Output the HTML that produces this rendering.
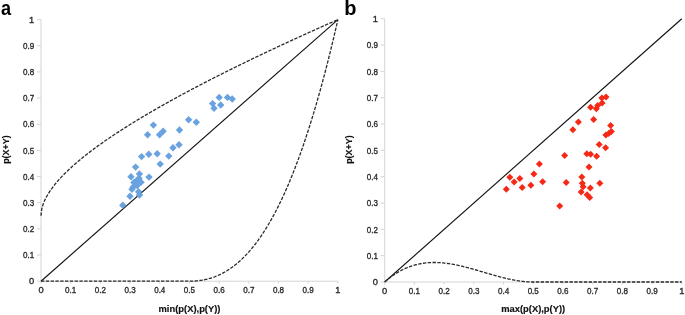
<!DOCTYPE html>
<html><head><meta charset="utf-8"><style>
html,body{margin:0;padding:0;background:#fff;}
body{width:685px;height:315px;overflow:hidden;}
svg{display:block;will-change:transform;filter:blur(0.3px);}
text{font-family:"Liberation Sans",sans-serif;}
.ax{stroke:#d4d4d4;stroke-width:1;fill:none;}
.tk{font-size:9.3px;fill:#2a2a2a;stroke:#2a2a2a;stroke-width:0.35px;}
.ttl{font-size:9.2px;font-weight:bold;fill:#111;stroke:#111;stroke-width:0.15px;}
.pl{font-size:20px;font-weight:bold;fill:#000;}
.solid{stroke:#111;stroke-width:1.15;fill:none;}
.dash{stroke:#2a2a2a;stroke-width:1.3;fill:none;stroke-dasharray:3.4 1.4;}
.bl{fill:#6aa2e0;}
.rd{fill:#f52a16;}
</style></head><body>
<svg width="685" height="315" viewBox="0 0 685 315">
<path class="ax" d="M41.0,19.6 L41.0,281.2 L337.9,281.2"/>
<path class="ax" d="M41.00,281.2 L41.00,283.7"/>
<path class="ax" d="M37.00,281.20 L41.0,281.20"/>
<text class="tk" x="41.00" y="292.90" text-anchor="middle">0</text>
<text class="tk" x="34.20" y="284.40" text-anchor="end">0</text>
<path class="ax" d="M70.69,281.2 L70.69,283.7"/>
<path class="ax" d="M37.00,255.04 L41.0,255.04"/>
<text class="tk" x="70.69" y="292.90" text-anchor="middle" textLength="11.2" lengthAdjust="spacingAndGlyphs">0.1</text>
<text class="tk" x="34.20" y="258.24" text-anchor="end" textLength="11.2" lengthAdjust="spacingAndGlyphs">0.1</text>
<path class="ax" d="M100.38,281.2 L100.38,283.7"/>
<path class="ax" d="M37.00,228.88 L41.0,228.88"/>
<text class="tk" x="100.38" y="292.90" text-anchor="middle" textLength="11.2" lengthAdjust="spacingAndGlyphs">0.2</text>
<text class="tk" x="34.20" y="232.08" text-anchor="end" textLength="11.2" lengthAdjust="spacingAndGlyphs">0.2</text>
<path class="ax" d="M130.07,281.2 L130.07,283.7"/>
<path class="ax" d="M37.00,202.72 L41.0,202.72"/>
<text class="tk" x="130.07" y="292.90" text-anchor="middle" textLength="11.2" lengthAdjust="spacingAndGlyphs">0.3</text>
<text class="tk" x="34.20" y="205.92" text-anchor="end" textLength="11.2" lengthAdjust="spacingAndGlyphs">0.3</text>
<path class="ax" d="M159.76,281.2 L159.76,283.7"/>
<path class="ax" d="M37.00,176.56 L41.0,176.56"/>
<text class="tk" x="159.76" y="292.90" text-anchor="middle" textLength="11.2" lengthAdjust="spacingAndGlyphs">0.4</text>
<text class="tk" x="34.20" y="179.76" text-anchor="end" textLength="11.2" lengthAdjust="spacingAndGlyphs">0.4</text>
<path class="ax" d="M189.45,281.2 L189.45,283.7"/>
<path class="ax" d="M37.00,150.40 L41.0,150.40"/>
<text class="tk" x="189.45" y="292.90" text-anchor="middle" textLength="11.2" lengthAdjust="spacingAndGlyphs">0.5</text>
<text class="tk" x="34.20" y="153.60" text-anchor="end" textLength="11.2" lengthAdjust="spacingAndGlyphs">0.5</text>
<path class="ax" d="M219.14,281.2 L219.14,283.7"/>
<path class="ax" d="M37.00,124.24 L41.0,124.24"/>
<text class="tk" x="219.14" y="292.90" text-anchor="middle" textLength="11.2" lengthAdjust="spacingAndGlyphs">0.6</text>
<text class="tk" x="34.20" y="127.44" text-anchor="end" textLength="11.2" lengthAdjust="spacingAndGlyphs">0.6</text>
<path class="ax" d="M248.83,281.2 L248.83,283.7"/>
<path class="ax" d="M37.00,98.08 L41.0,98.08"/>
<text class="tk" x="248.83" y="292.90" text-anchor="middle" textLength="11.2" lengthAdjust="spacingAndGlyphs">0.7</text>
<text class="tk" x="34.20" y="101.28" text-anchor="end" textLength="11.2" lengthAdjust="spacingAndGlyphs">0.7</text>
<path class="ax" d="M278.52,281.2 L278.52,283.7"/>
<path class="ax" d="M37.00,71.92 L41.0,71.92"/>
<text class="tk" x="278.52" y="292.90" text-anchor="middle" textLength="11.2" lengthAdjust="spacingAndGlyphs">0.8</text>
<text class="tk" x="34.20" y="75.12" text-anchor="end" textLength="11.2" lengthAdjust="spacingAndGlyphs">0.8</text>
<path class="ax" d="M308.21,281.2 L308.21,283.7"/>
<path class="ax" d="M37.00,45.76 L41.0,45.76"/>
<text class="tk" x="308.21" y="292.90" text-anchor="middle" textLength="11.2" lengthAdjust="spacingAndGlyphs">0.9</text>
<text class="tk" x="34.20" y="48.96" text-anchor="end" textLength="11.2" lengthAdjust="spacingAndGlyphs">0.9</text>
<path class="ax" d="M337.90,281.2 L337.90,283.7"/>
<path class="ax" d="M37.00,19.60 L41.0,19.60"/>
<text class="tk" x="337.90" y="292.90" text-anchor="middle">1</text>
<text class="tk" x="34.20" y="22.80" text-anchor="end">1</text>
<path class="ax" d="M384.7,18.7 L384.7,282.0 L681.8,282.0"/>
<path class="ax" d="M384.70,282.0 L384.70,284.5"/>
<path class="ax" d="M380.70,282.00 L384.7,282.00"/>
<text class="tk" x="384.70" y="293.70" text-anchor="middle">0</text>
<text class="tk" x="377.90" y="285.20" text-anchor="end">0</text>
<path class="ax" d="M414.41,282.0 L414.41,284.5"/>
<path class="ax" d="M380.70,255.67 L384.7,255.67"/>
<text class="tk" x="414.41" y="293.70" text-anchor="middle" textLength="11.2" lengthAdjust="spacingAndGlyphs">0.1</text>
<text class="tk" x="377.90" y="258.87" text-anchor="end" textLength="11.2" lengthAdjust="spacingAndGlyphs">0.1</text>
<path class="ax" d="M444.12,282.0 L444.12,284.5"/>
<path class="ax" d="M380.70,229.34 L384.7,229.34"/>
<text class="tk" x="444.12" y="293.70" text-anchor="middle" textLength="11.2" lengthAdjust="spacingAndGlyphs">0.2</text>
<text class="tk" x="377.90" y="232.54" text-anchor="end" textLength="11.2" lengthAdjust="spacingAndGlyphs">0.2</text>
<path class="ax" d="M473.83,282.0 L473.83,284.5"/>
<path class="ax" d="M380.70,203.01 L384.7,203.01"/>
<text class="tk" x="473.83" y="293.70" text-anchor="middle" textLength="11.2" lengthAdjust="spacingAndGlyphs">0.3</text>
<text class="tk" x="377.90" y="206.21" text-anchor="end" textLength="11.2" lengthAdjust="spacingAndGlyphs">0.3</text>
<path class="ax" d="M503.54,282.0 L503.54,284.5"/>
<path class="ax" d="M380.70,176.68 L384.7,176.68"/>
<text class="tk" x="503.54" y="293.70" text-anchor="middle" textLength="11.2" lengthAdjust="spacingAndGlyphs">0.4</text>
<text class="tk" x="377.90" y="179.88" text-anchor="end" textLength="11.2" lengthAdjust="spacingAndGlyphs">0.4</text>
<path class="ax" d="M533.25,282.0 L533.25,284.5"/>
<path class="ax" d="M380.70,150.35 L384.7,150.35"/>
<text class="tk" x="533.25" y="293.70" text-anchor="middle" textLength="11.2" lengthAdjust="spacingAndGlyphs">0.5</text>
<text class="tk" x="377.90" y="153.55" text-anchor="end" textLength="11.2" lengthAdjust="spacingAndGlyphs">0.5</text>
<path class="ax" d="M562.96,282.0 L562.96,284.5"/>
<path class="ax" d="M380.70,124.02 L384.7,124.02"/>
<text class="tk" x="562.96" y="293.70" text-anchor="middle" textLength="11.2" lengthAdjust="spacingAndGlyphs">0.6</text>
<text class="tk" x="377.90" y="127.22" text-anchor="end" textLength="11.2" lengthAdjust="spacingAndGlyphs">0.6</text>
<path class="ax" d="M592.67,282.0 L592.67,284.5"/>
<path class="ax" d="M380.70,97.69 L384.7,97.69"/>
<text class="tk" x="592.67" y="293.70" text-anchor="middle" textLength="11.2" lengthAdjust="spacingAndGlyphs">0.7</text>
<text class="tk" x="377.90" y="100.89" text-anchor="end" textLength="11.2" lengthAdjust="spacingAndGlyphs">0.7</text>
<path class="ax" d="M622.38,282.0 L622.38,284.5"/>
<path class="ax" d="M380.70,71.36 L384.7,71.36"/>
<text class="tk" x="622.38" y="293.70" text-anchor="middle" textLength="11.2" lengthAdjust="spacingAndGlyphs">0.8</text>
<text class="tk" x="377.90" y="74.56" text-anchor="end" textLength="11.2" lengthAdjust="spacingAndGlyphs">0.8</text>
<path class="ax" d="M652.09,282.0 L652.09,284.5"/>
<path class="ax" d="M380.70,45.03 L384.7,45.03"/>
<text class="tk" x="652.09" y="293.70" text-anchor="middle" textLength="11.2" lengthAdjust="spacingAndGlyphs">0.9</text>
<text class="tk" x="377.90" y="48.23" text-anchor="end" textLength="11.2" lengthAdjust="spacingAndGlyphs">0.9</text>
<path class="ax" d="M681.80,282.0 L681.80,284.5"/>
<path class="ax" d="M380.70,18.70 L384.7,18.70"/>
<text class="tk" x="681.80" y="293.70" text-anchor="middle">1</text>
<text class="tk" x="377.90" y="21.90" text-anchor="end">1</text>
<path class="solid" d="M41.00,281.20 L337.90,19.60"/>
<path class="dash" d="M41.00,215.80 L41.74,209.10 L42.48,206.22 L43.23,203.98 L43.97,202.07 L44.71,200.36 L45.45,198.80 L46.20,197.35 L46.94,195.99 L47.68,194.71 L48.42,193.48 L49.16,192.31 L49.91,191.18 L50.65,190.09 L51.39,189.04 L52.13,188.02 L52.88,187.02 L53.62,186.06 L54.36,185.11 L55.10,184.19 L55.84,183.28 L56.59,182.40 L57.33,181.53 L58.07,180.67 L58.81,179.84 L59.56,179.01 L60.30,178.20 L61.04,177.40 L61.78,176.62 L62.53,175.84 L63.27,175.07 L64.01,174.32 L64.75,173.57 L65.49,172.84 L66.24,172.11 L66.98,171.39 L67.72,170.67 L68.46,169.97 L69.21,169.27 L69.95,168.58 L70.69,167.90 L71.43,167.22 L72.17,166.55 L72.92,165.88 L73.66,165.22 L74.40,164.57 L75.14,163.92 L75.89,163.28 L76.63,162.64 L77.37,162.01 L78.11,161.38 L78.85,160.76 L79.60,160.14 L80.34,159.52 L81.08,158.91 L81.82,158.31 L82.57,157.70 L83.31,157.10 L84.05,156.51 L84.79,155.92 L85.53,155.33 L86.28,154.75 L87.02,154.17 L87.76,153.59 L88.50,153.02 L89.25,152.45 L89.99,151.88 L90.73,151.31 L91.47,150.75 L92.22,150.19 L92.96,149.64 L93.70,149.08 L94.44,148.53 L95.18,147.99 L95.93,147.44 L96.67,146.90 L97.41,146.36 L98.15,145.82 L98.90,145.29 L99.64,144.75 L100.38,144.22 L101.12,143.70 L101.86,143.17 L102.61,142.65 L103.35,142.13 L104.09,141.61 L104.83,141.09 L105.58,140.57 L106.32,140.06 L107.06,139.55 L107.80,139.04 L108.54,138.53 L109.29,138.03 L110.03,137.53 L110.77,137.02 L111.51,136.52 L112.26,136.03 L113.00,135.53 L113.74,135.03 L114.48,134.54 L115.22,134.05 L115.97,133.56 L116.71,133.07 L117.45,132.59 L118.19,132.10 L118.94,131.62 L119.68,131.14 L120.42,130.66 L121.16,130.18 L121.91,129.70 L122.65,129.22 L123.39,128.75 L124.13,128.28 L124.87,127.80 L125.62,127.33 L126.36,126.86 L127.10,126.40 L127.84,125.93 L128.59,125.46 L129.33,125.00 L130.07,124.54 L130.81,124.08 L131.55,123.62 L132.30,123.16 L133.04,122.70 L133.78,122.24 L134.52,121.79 L135.27,121.33 L136.01,120.88 L136.75,120.43 L137.49,119.98 L138.23,119.53 L138.98,119.08 L139.72,118.63 L140.46,118.19 L141.20,117.74 L141.95,117.30 L142.69,116.85 L143.43,116.41 L144.17,115.97 L144.91,115.53 L145.66,115.09 L146.40,114.65 L147.14,114.21 L147.88,113.78 L148.63,113.34 L149.37,112.91 L150.11,112.47 L150.85,112.04 L151.60,111.61 L152.34,111.18 L153.08,110.75 L153.82,110.32 L154.56,109.89 L155.31,109.46 L156.05,109.04 L156.79,108.61 L157.53,108.18 L158.28,107.76 L159.02,107.34 L159.76,106.91 L160.50,106.49 L161.24,106.07 L161.99,105.65 L162.73,105.23 L163.47,104.81 L164.21,104.40 L164.96,103.98 L165.70,103.56 L166.44,103.15 L167.18,102.73 L167.92,102.32 L168.67,101.91 L169.41,101.49 L170.15,101.08 L170.89,100.67 L171.64,100.26 L172.38,99.85 L173.12,99.44 L173.86,99.03 L174.60,98.63 L175.35,98.22 L176.09,97.81 L176.83,97.41 L177.57,97.00 L178.32,96.60 L179.06,96.20 L179.80,95.79 L180.54,95.39 L181.29,94.99 L182.03,94.59 L182.77,94.19 L183.51,93.79 L184.25,93.39 L185.00,92.99 L185.74,92.59 L186.48,92.19 L187.22,91.80 L187.97,91.40 L188.71,91.01 L189.45,90.61 L190.19,90.22 L190.93,89.82 L191.68,89.43 L192.42,89.04 L193.16,88.64 L193.90,88.25 L194.65,87.86 L195.39,87.47 L196.13,87.08 L196.87,86.69 L197.61,86.30 L198.36,85.91 L199.10,85.53 L199.84,85.14 L200.58,84.75 L201.33,84.37 L202.07,83.98 L202.81,83.60 L203.55,83.21 L204.29,82.83 L205.04,82.44 L205.78,82.06 L206.52,81.68 L207.26,81.29 L208.01,80.91 L208.75,80.53 L209.49,80.15 L210.23,79.77 L210.98,79.39 L211.72,79.01 L212.46,78.63 L213.20,78.25 L213.94,77.88 L214.69,77.50 L215.43,77.12 L216.17,76.74 L216.91,76.37 L217.66,75.99 L218.40,75.62 L219.14,75.24 L219.88,74.87 L220.62,74.49 L221.37,74.12 L222.11,73.75 L222.85,73.38 L223.59,73.00 L224.34,72.63 L225.08,72.26 L225.82,71.89 L226.56,71.52 L227.30,71.15 L228.05,70.78 L228.79,70.41 L229.53,70.04 L230.27,69.67 L231.02,69.30 L231.76,68.94 L232.50,68.57 L233.24,68.20 L233.98,67.84 L234.73,67.47 L235.47,67.10 L236.21,66.74 L236.95,66.37 L237.70,66.01 L238.44,65.64 L239.18,65.28 L239.92,64.92 L240.67,64.55 L241.41,64.19 L242.15,63.83 L242.89,63.47 L243.63,63.11 L244.38,62.74 L245.12,62.38 L245.86,62.02 L246.60,61.66 L247.35,61.30 L248.09,60.94 L248.83,60.58 L249.57,60.23 L250.31,59.87 L251.06,59.51 L251.80,59.15 L252.54,58.79 L253.28,58.44 L254.03,58.08 L254.77,57.72 L255.51,57.37 L256.25,57.01 L256.99,56.66 L257.74,56.30 L258.48,55.95 L259.22,55.59 L259.96,55.24 L260.71,54.89 L261.45,54.53 L262.19,54.18 L262.93,53.83 L263.67,53.47 L264.42,53.12 L265.16,52.77 L265.90,52.42 L266.64,52.07 L267.39,51.72 L268.13,51.37 L268.87,51.02 L269.61,50.67 L270.36,50.32 L271.10,49.97 L271.84,49.62 L272.58,49.27 L273.32,48.92 L274.07,48.57 L274.81,48.22 L275.55,47.88 L276.29,47.53 L277.04,47.18 L277.78,46.84 L278.52,46.49 L279.26,46.14 L280.00,45.80 L280.75,45.45 L281.49,45.11 L282.23,44.76 L282.97,44.42 L283.72,44.07 L284.46,43.73 L285.20,43.38 L285.94,43.04 L286.68,42.70 L287.43,42.35 L288.17,42.01 L288.91,41.67 L289.65,41.33 L290.40,40.98 L291.14,40.64 L291.88,40.30 L292.62,39.96 L293.37,39.62 L294.11,39.28 L294.85,38.94 L295.59,38.60 L296.33,38.26 L297.08,37.92 L297.82,37.58 L298.56,37.24 L299.30,36.90 L300.05,36.56 L300.79,36.22 L301.53,35.88 L302.27,35.55 L303.01,35.21 L303.76,34.87 L304.50,34.53 L305.24,34.20 L305.98,33.86 L306.73,33.52 L307.47,33.19 L308.21,32.85 L308.95,32.52 L309.69,32.18 L310.44,31.85 L311.18,31.51 L311.92,31.18 L312.66,30.84 L313.41,30.51 L314.15,30.17 L314.89,29.84 L315.63,29.51 L316.37,29.17 L317.12,28.84 L317.86,28.51 L318.60,28.17 L319.34,27.84 L320.09,27.51 L320.83,27.18 L321.57,26.84 L322.31,26.51 L323.05,26.18 L323.80,25.85 L324.54,25.52 L325.28,25.19 L326.02,24.86 L326.77,24.53 L327.51,24.20 L328.25,23.87 L328.99,23.54 L329.74,23.21 L330.48,22.88 L331.22,22.55 L331.96,22.22 L332.70,21.89 L333.45,21.57 L334.19,21.24 L334.93,20.91 L335.67,20.58 L336.42,20.25 L337.16,19.93 L337.90,19.60"/>
<path class="dash" d="M41.00,281.20 L41.74,281.20 L42.48,281.20 L43.23,281.20 L43.97,281.20 L44.71,281.20 L45.45,281.20 L46.20,281.20 L46.94,281.20 L47.68,281.20 L48.42,281.20 L49.16,281.20 L49.91,281.20 L50.65,281.20 L51.39,281.20 L52.13,281.20 L52.88,281.20 L53.62,281.20 L54.36,281.20 L55.10,281.20 L55.84,281.20 L56.59,281.20 L57.33,281.20 L58.07,281.20 L58.81,281.20 L59.56,281.20 L60.30,281.20 L61.04,281.20 L61.78,281.20 L62.53,281.20 L63.27,281.20 L64.01,281.20 L64.75,281.20 L65.49,281.20 L66.24,281.20 L66.98,281.20 L67.72,281.20 L68.46,281.20 L69.21,281.20 L69.95,281.20 L70.69,281.20 L71.43,281.20 L72.17,281.20 L72.92,281.20 L73.66,281.20 L74.40,281.20 L75.14,281.20 L75.89,281.20 L76.63,281.20 L77.37,281.20 L78.11,281.20 L78.85,281.20 L79.60,281.20 L80.34,281.20 L81.08,281.20 L81.82,281.20 L82.57,281.20 L83.31,281.20 L84.05,281.20 L84.79,281.20 L85.53,281.20 L86.28,281.20 L87.02,281.20 L87.76,281.20 L88.50,281.20 L89.25,281.20 L89.99,281.20 L90.73,281.20 L91.47,281.20 L92.22,281.20 L92.96,281.20 L93.70,281.20 L94.44,281.20 L95.18,281.20 L95.93,281.20 L96.67,281.20 L97.41,281.20 L98.15,281.20 L98.90,281.20 L99.64,281.20 L100.38,281.20 L101.12,281.20 L101.86,281.20 L102.61,281.20 L103.35,281.20 L104.09,281.20 L104.83,281.20 L105.58,281.20 L106.32,281.20 L107.06,281.20 L107.80,281.20 L108.54,281.20 L109.29,281.20 L110.03,281.20 L110.77,281.20 L111.51,281.20 L112.26,281.20 L113.00,281.20 L113.74,281.20 L114.48,281.20 L115.22,281.20 L115.97,281.20 L116.71,281.20 L117.45,281.20 L118.19,281.20 L118.94,281.20 L119.68,281.20 L120.42,281.20 L121.16,281.20 L121.91,281.20 L122.65,281.20 L123.39,281.20 L124.13,281.20 L124.87,281.20 L125.62,281.20 L126.36,281.20 L127.10,281.20 L127.84,281.20 L128.59,281.20 L129.33,281.20 L130.07,281.20 L130.81,281.20 L131.55,281.20 L132.30,281.20 L133.04,281.20 L133.78,281.20 L134.52,281.20 L135.27,281.20 L136.01,281.20 L136.75,281.20 L137.49,281.20 L138.23,281.20 L138.98,281.20 L139.72,281.20 L140.46,281.20 L141.20,281.20 L141.95,281.20 L142.69,281.20 L143.43,281.20 L144.17,281.20 L144.91,281.20 L145.66,281.20 L146.40,281.20 L147.14,281.20 L147.88,281.20 L148.63,281.20 L149.37,281.20 L150.11,281.20 L150.85,281.20 L151.60,281.20 L152.34,281.20 L153.08,281.20 L153.82,281.20 L154.56,281.20 L155.31,281.20 L156.05,281.20 L156.79,281.20 L157.53,281.20 L158.28,281.20 L159.02,281.20 L159.76,281.20 L160.50,281.20 L161.24,281.20 L161.99,281.20 L162.73,281.20 L163.47,281.20 L164.21,281.20 L164.96,281.20 L165.70,281.20 L166.44,281.20 L167.18,281.20 L167.92,281.20 L168.67,281.20 L169.41,281.20 L170.15,281.20 L170.89,281.20 L171.64,281.20 L172.38,281.20 L173.12,281.20 L173.86,281.20 L174.60,281.20 L175.35,281.20 L176.09,281.20 L176.83,281.20 L177.57,281.20 L178.32,281.20 L179.06,281.20 L179.80,281.20 L180.54,281.20 L181.29,281.20 L182.03,281.20 L182.77,281.20 L183.51,281.20 L184.25,281.20 L185.00,281.20 L185.74,281.20 L186.48,281.20 L187.22,281.20 L187.97,281.20 L188.71,281.20 L189.45,281.20 L190.19,281.20 L190.93,281.19 L191.68,281.17 L192.42,281.15 L193.16,281.12 L193.90,281.08 L194.65,281.03 L195.39,280.98 L196.13,280.92 L196.87,280.86 L197.61,280.78 L198.36,280.70 L199.10,280.61 L199.84,280.51 L200.58,280.41 L201.33,280.30 L202.07,280.17 L202.81,280.05 L203.55,279.91 L204.29,279.76 L205.04,279.61 L205.78,279.44 L206.52,279.27 L207.26,279.09 L208.01,278.90 L208.75,278.70 L209.49,278.49 L210.23,278.28 L210.98,278.05 L211.72,277.82 L212.46,277.57 L213.20,277.32 L213.94,277.05 L214.69,276.78 L215.43,276.49 L216.17,276.20 L216.91,275.90 L217.66,275.58 L218.40,275.26 L219.14,274.92 L219.88,274.58 L220.62,274.22 L221.37,273.85 L222.11,273.48 L222.85,273.09 L223.59,272.69 L224.34,272.28 L225.08,271.86 L225.82,271.43 L226.56,270.98 L227.30,270.53 L228.05,270.06 L228.79,269.58 L229.53,269.09 L230.27,268.59 L231.02,268.07 L231.76,267.55 L232.50,267.01 L233.24,266.46 L233.98,265.90 L234.73,265.32 L235.47,264.73 L236.21,264.13 L236.95,263.52 L237.70,262.89 L238.44,262.26 L239.18,261.60 L239.92,260.94 L240.67,260.26 L241.41,259.57 L242.15,258.86 L242.89,258.15 L243.63,257.41 L244.38,256.67 L245.12,255.91 L245.86,255.14 L246.60,254.35 L247.35,253.55 L248.09,252.73 L248.83,251.90 L249.57,251.06 L250.31,250.20 L251.06,249.32 L251.80,248.44 L252.54,247.53 L253.28,246.62 L254.03,245.68 L254.77,244.74 L255.51,243.77 L256.25,242.79 L256.99,241.80 L257.74,240.79 L258.48,239.77 L259.22,238.73 L259.96,237.67 L260.71,236.60 L261.45,235.51 L262.19,234.41 L262.93,233.29 L263.67,232.15 L264.42,231.00 L265.16,229.83 L265.90,228.64 L266.64,227.44 L267.39,226.22 L268.13,224.99 L268.87,223.73 L269.61,222.46 L270.36,221.18 L271.10,219.87 L271.84,218.55 L272.58,217.21 L273.32,215.85 L274.07,214.48 L274.81,213.09 L275.55,211.68 L276.29,210.25 L277.04,208.80 L277.78,207.34 L278.52,205.86 L279.26,204.36 L280.00,202.84 L280.75,201.30 L281.49,199.75 L282.23,198.17 L282.97,196.58 L283.72,194.97 L284.46,193.34 L285.20,191.69 L285.94,190.02 L286.68,188.33 L287.43,186.62 L288.17,184.89 L288.91,183.14 L289.65,181.38 L290.40,179.59 L291.14,177.78 L291.88,175.96 L292.62,174.11 L293.37,172.24 L294.11,170.36 L294.85,168.45 L295.59,166.52 L296.33,164.57 L297.08,162.60 L297.82,160.61 L298.56,158.60 L299.30,156.57 L300.05,154.52 L300.79,152.44 L301.53,150.35 L302.27,148.23 L303.01,146.09 L303.76,143.93 L304.50,141.75 L305.24,139.55 L305.98,137.33 L306.73,135.08 L307.47,132.81 L308.21,130.52 L308.95,128.21 L309.69,125.87 L310.44,123.51 L311.18,121.13 L311.92,118.73 L312.66,116.30 L313.41,113.85 L314.15,111.38 L314.89,108.89 L315.63,106.37 L316.37,103.83 L317.12,101.26 L317.86,98.68 L318.60,96.07 L319.34,93.43 L320.09,90.77 L320.83,88.09 L321.57,85.38 L322.31,82.65 L323.05,79.90 L323.80,77.12 L324.54,74.32 L325.28,71.49 L326.02,68.64 L326.77,65.76 L327.51,62.86 L328.25,59.94 L328.99,56.98 L329.74,54.01 L330.48,51.01 L331.22,47.98 L331.96,44.93 L332.70,41.85 L333.45,38.75 L334.19,35.63 L334.93,32.47 L335.67,29.29 L336.42,26.09 L337.16,22.86 L337.90,19.60"/>
<path class="solid" d="M384.70,282.00 L681.80,18.70"/>
<path class="dash" d="M384.70,282.00 L385.44,281.35 L386.19,280.71 L386.93,280.08 L387.67,279.47 L388.41,278.87 L389.16,278.28 L389.90,277.71 L390.64,277.15 L391.38,276.60 L392.13,276.06 L392.87,275.53 L393.61,275.02 L394.36,274.52 L395.10,274.03 L395.84,273.55 L396.58,273.09 L397.33,272.63 L398.07,272.19 L398.81,271.76 L399.56,271.34 L400.30,270.93 L401.04,270.53 L401.78,270.14 L402.53,269.77 L403.27,269.40 L404.01,269.05 L404.75,268.70 L405.50,268.37 L406.24,268.05 L406.98,267.73 L407.73,267.43 L408.47,267.14 L409.21,266.85 L409.95,266.58 L410.70,266.32 L411.44,266.07 L412.18,265.82 L412.92,265.59 L413.67,265.36 L414.41,265.15 L415.15,264.94 L415.90,264.75 L416.64,264.56 L417.38,264.38 L418.12,264.21 L418.87,264.05 L419.61,263.89 L420.35,263.75 L421.09,263.61 L421.84,263.49 L422.58,263.37 L423.32,263.26 L424.07,263.15 L424.81,263.06 L425.55,262.97 L426.29,262.89 L427.04,262.82 L427.78,262.75 L428.52,262.70 L429.26,262.65 L430.01,262.60 L430.75,262.57 L431.49,262.54 L432.24,262.52 L432.98,262.51 L433.72,262.50 L434.46,262.50 L435.21,262.50 L435.95,262.51 L436.69,262.53 L437.44,262.56 L438.18,262.59 L438.92,262.62 L439.66,262.67 L440.41,262.72 L441.15,262.77 L441.89,262.83 L442.63,262.90 L443.38,262.97 L444.12,263.04 L444.86,263.12 L445.61,263.21 L446.35,263.30 L447.09,263.40 L447.83,263.50 L448.58,263.61 L449.32,263.72 L450.06,263.83 L450.80,263.95 L451.55,264.08 L452.29,264.21 L453.03,264.34 L453.78,264.48 L454.52,264.62 L455.26,264.76 L456.00,264.91 L456.75,265.07 L457.49,265.22 L458.23,265.38 L458.97,265.54 L459.72,265.71 L460.46,265.88 L461.20,266.05 L461.95,266.23 L462.69,266.41 L463.43,266.59 L464.17,266.77 L464.92,266.96 L465.66,267.15 L466.40,267.34 L467.15,267.53 L467.89,267.73 L468.63,267.93 L469.37,268.13 L470.12,268.33 L470.86,268.53 L471.60,268.74 L472.34,268.94 L473.09,269.15 L473.83,269.36 L474.57,269.57 L475.32,269.79 L476.06,270.00 L476.80,270.21 L477.54,270.43 L478.29,270.65 L479.03,270.86 L479.77,271.08 L480.51,271.30 L481.26,271.52 L482.00,271.74 L482.74,271.96 L483.49,272.18 L484.23,272.39 L484.97,272.61 L485.71,272.83 L486.46,273.05 L487.20,273.27 L487.94,273.49 L488.68,273.71 L489.43,273.92 L490.17,274.14 L490.91,274.35 L491.66,274.57 L492.40,274.78 L493.14,274.99 L493.88,275.20 L494.63,275.41 L495.37,275.62 L496.11,275.83 L496.86,276.03 L497.60,276.24 L498.34,276.44 L499.08,276.64 L499.83,276.83 L500.57,277.03 L501.31,277.22 L502.05,277.41 L502.80,277.60 L503.54,277.79 L504.28,277.97 L505.03,278.15 L505.77,278.33 L506.51,278.50 L507.25,278.67 L508.00,278.84 L508.74,279.01 L509.48,279.17 L510.22,279.33 L510.97,279.48 L511.71,279.63 L512.45,279.78 L513.20,279.92 L513.94,280.06 L514.68,280.20 L515.42,280.33 L516.17,280.46 L516.91,280.58 L517.65,280.70 L518.39,280.82 L519.14,280.92 L519.88,281.03 L520.62,281.13 L521.37,281.22 L522.11,281.32 L522.85,281.40 L523.59,281.48 L524.34,281.55 L525.08,281.62 L525.82,281.69 L526.57,281.75 L527.31,281.80 L528.05,281.84 L528.79,281.89 L529.54,281.92 L530.28,281.95 L531.02,281.97 L531.76,281.99 L532.51,282.00 L533.25,282.00 L533.99,282.00 L534.74,282.00 L535.48,282.00 L536.22,282.00 L536.96,282.00 L537.71,282.00 L538.45,282.00 L539.19,282.00 L539.93,282.00 L540.68,282.00 L541.42,282.00 L542.16,282.00 L542.91,282.00 L543.65,282.00 L544.39,282.00 L545.13,282.00 L545.88,282.00 L546.62,282.00 L547.36,282.00 L548.11,282.00 L548.85,282.00 L549.59,282.00 L550.33,282.00 L551.08,282.00 L551.82,282.00 L552.56,282.00 L553.30,282.00 L554.05,282.00 L554.79,282.00 L555.53,282.00 L556.28,282.00 L557.02,282.00 L557.76,282.00 L558.50,282.00 L559.25,282.00 L559.99,282.00 L560.73,282.00 L561.47,282.00 L562.22,282.00 L562.96,282.00 L563.70,282.00 L564.45,282.00 L565.19,282.00 L565.93,282.00 L566.67,282.00 L567.42,282.00 L568.16,282.00 L568.90,282.00 L569.64,282.00 L570.39,282.00 L571.13,282.00 L571.87,282.00 L572.62,282.00 L573.36,282.00 L574.10,282.00 L574.84,282.00 L575.59,282.00 L576.33,282.00 L577.07,282.00 L577.81,282.00 L578.56,282.00 L579.30,282.00 L580.04,282.00 L580.79,282.00 L581.53,282.00 L582.27,282.00 L583.01,282.00 L583.76,282.00 L584.50,282.00 L585.24,282.00 L585.99,282.00 L586.73,282.00 L587.47,282.00 L588.21,282.00 L588.96,282.00 L589.70,282.00 L590.44,282.00 L591.18,282.00 L591.93,282.00 L592.67,282.00 L593.41,282.00 L594.16,282.00 L594.90,282.00 L595.64,282.00 L596.38,282.00 L597.13,282.00 L597.87,282.00 L598.61,282.00 L599.35,282.00 L600.10,282.00 L600.84,282.00 L601.58,282.00 L602.33,282.00 L603.07,282.00 L603.81,282.00 L604.55,282.00 L605.30,282.00 L606.04,282.00 L606.78,282.00 L607.52,282.00 L608.27,282.00 L609.01,282.00 L609.75,282.00 L610.50,282.00 L611.24,282.00 L611.98,282.00 L612.72,282.00 L613.47,282.00 L614.21,282.00 L614.95,282.00 L615.70,282.00 L616.44,282.00 L617.18,282.00 L617.92,282.00 L618.67,282.00 L619.41,282.00 L620.15,282.00 L620.89,282.00 L621.64,282.00 L622.38,282.00 L623.12,282.00 L623.87,282.00 L624.61,282.00 L625.35,282.00 L626.09,282.00 L626.84,282.00 L627.58,282.00 L628.32,282.00 L629.06,282.00 L629.81,282.00 L630.55,282.00 L631.29,282.00 L632.04,282.00 L632.78,282.00 L633.52,282.00 L634.26,282.00 L635.01,282.00 L635.75,282.00 L636.49,282.00 L637.23,282.00 L637.98,282.00 L638.72,282.00 L639.46,282.00 L640.21,282.00 L640.95,282.00 L641.69,282.00 L642.43,282.00 L643.18,282.00 L643.92,282.00 L644.66,282.00 L645.41,282.00 L646.15,282.00 L646.89,282.00 L647.63,282.00 L648.38,282.00 L649.12,282.00 L649.86,282.00 L650.60,282.00 L651.35,282.00 L652.09,282.00 L652.83,282.00 L653.58,282.00 L654.32,282.00 L655.06,282.00 L655.80,282.00 L656.55,282.00 L657.29,282.00 L658.03,282.00 L658.77,282.00 L659.52,282.00 L660.26,282.00 L661.00,282.00 L661.75,282.00 L662.49,282.00 L663.23,282.00 L663.97,282.00 L664.72,282.00 L665.46,282.00 L666.20,282.00 L666.94,282.00 L667.69,282.00 L668.43,282.00 L669.17,282.00 L669.92,282.00 L670.66,282.00 L671.40,282.00 L672.14,282.00 L672.89,282.00 L673.63,282.00 L674.37,282.00 L675.12,282.00 L675.86,282.00 L676.60,282.00 L677.34,282.00 L678.09,282.00 L678.83,282.00 L679.57,282.00 L680.31,282.00 L681.06,282.00 L681.80,282.00"/>
<path class="bl" d="M122.8,201.6 L126.5,205.3 L122.8,209.0 L119.1,205.3Z"/>
<path class="bl" d="M130.0,192.5 L133.7,196.2 L130.0,199.9 L126.3,196.2Z"/>
<path class="bl" d="M139.5,191.3 L143.2,195.0 L139.5,198.7 L135.8,195.0Z"/>
<path class="bl" d="M138.6,188.1 L142.3,191.8 L138.6,195.5 L134.9,191.8Z"/>
<path class="bl" d="M132.0,185.6 L135.7,189.3 L132.0,193.0 L128.3,189.3Z"/>
<path class="bl" d="M133.0,183.5 L136.7,187.2 L133.0,190.9 L129.3,187.2Z"/>
<path class="bl" d="M137.2,181.8 L140.9,185.5 L137.2,189.2 L133.5,185.5Z"/>
<path class="bl" d="M133.9,178.7 L137.6,182.4 L133.9,186.1 L130.2,182.4Z"/>
<path class="bl" d="M141.0,178.5 L144.7,182.2 L141.0,185.9 L137.3,182.2Z"/>
<path class="bl" d="M136.7,176.8 L140.4,180.5 L136.7,184.2 L133.0,180.5Z"/>
<path class="bl" d="M139.0,174.6 L142.7,178.3 L139.0,182.0 L135.3,178.3Z"/>
<path class="bl" d="M131.0,173.1 L134.7,176.8 L131.0,180.5 L127.3,176.8Z"/>
<path class="bl" d="M139.4,170.2 L143.1,173.9 L139.4,177.6 L135.7,173.9Z"/>
<path class="bl" d="M135.6,163.4 L139.3,167.1 L135.6,170.8 L131.9,167.1Z"/>
<path class="bl" d="M149.0,173.4 L152.7,177.1 L149.0,180.8 L145.3,177.1Z"/>
<path class="bl" d="M141.6,152.9 L145.3,156.6 L141.6,160.3 L137.9,156.6Z"/>
<path class="bl" d="M148.8,150.5 L152.5,154.2 L148.8,157.9 L145.1,154.2Z"/>
<path class="bl" d="M157.2,150.0 L160.9,153.7 L157.2,157.4 L153.5,153.7Z"/>
<path class="bl" d="M160.2,160.4 L163.9,164.1 L160.2,167.8 L156.5,164.1Z"/>
<path class="bl" d="M168.8,152.4 L172.5,156.1 L168.8,159.8 L165.1,156.1Z"/>
<path class="bl" d="M173.0,144.1 L176.7,147.8 L173.0,151.5 L169.3,147.8Z"/>
<path class="bl" d="M179.0,141.0 L182.7,144.7 L179.0,148.4 L175.3,144.7Z"/>
<path class="bl" d="M153.4,121.4 L157.1,125.1 L153.4,128.8 L149.7,125.1Z"/>
<path class="bl" d="M147.6,131.1 L151.3,134.8 L147.6,138.5 L143.9,134.8Z"/>
<path class="bl" d="M159.6,131.1 L163.3,134.8 L159.6,138.5 L155.9,134.8Z"/>
<path class="bl" d="M163.1,127.6 L166.8,131.3 L163.1,135.0 L159.4,131.3Z"/>
<path class="bl" d="M179.5,126.3 L183.2,130.0 L179.5,133.7 L175.8,130.0Z"/>
<path class="bl" d="M188.6,116.0 L192.3,119.7 L188.6,123.4 L184.9,119.7Z"/>
<path class="bl" d="M196.3,118.6 L200.0,122.3 L196.3,126.0 L192.6,122.3Z"/>
<path class="bl" d="M212.6,99.9 L216.3,103.6 L212.6,107.3 L208.9,103.6Z"/>
<path class="bl" d="M214.0,104.6 L217.7,108.3 L214.0,112.0 L210.3,108.3Z"/>
<path class="bl" d="M219.2,93.7 L222.9,97.4 L219.2,101.1 L215.5,97.4Z"/>
<path class="bl" d="M220.7,101.3 L224.4,105.0 L220.7,108.7 L217.0,105.0Z"/>
<path class="bl" d="M227.5,93.7 L231.2,97.4 L227.5,101.1 L223.8,97.4Z"/>
<path class="bl" d="M232.2,95.3 L235.9,99.0 L232.2,102.7 L228.5,99.0Z"/>
<path class="rd" d="M509.8,173.7 L513.3,177.2 L509.8,180.7 L506.3,177.2Z"/>
<path class="rd" d="M514.2,178.4 L517.7,181.9 L514.2,185.4 L510.7,181.9Z"/>
<path class="rd" d="M519.8,175.1 L523.3,178.6 L519.8,182.1 L516.3,178.6Z"/>
<path class="rd" d="M506.3,185.7 L509.8,189.2 L506.3,192.7 L502.8,189.2Z"/>
<path class="rd" d="M522.2,184.1 L525.7,187.6 L522.2,191.1 L518.7,187.6Z"/>
<path class="rd" d="M530.9,181.8 L534.4,185.3 L530.9,188.8 L527.4,185.3Z"/>
<path class="rd" d="M533.9,170.6 L537.4,174.1 L533.9,177.6 L530.4,174.1Z"/>
<path class="rd" d="M539.4,160.6 L542.9,164.1 L539.4,167.6 L535.9,164.1Z"/>
<path class="rd" d="M542.6,178.2 L546.1,181.7 L542.6,185.2 L539.1,181.7Z"/>
<path class="rd" d="M564.6,152.1 L568.1,155.6 L564.6,159.1 L561.1,155.6Z"/>
<path class="rd" d="M566.2,178.9 L569.7,182.4 L566.2,185.9 L562.7,182.4Z"/>
<path class="rd" d="M559.7,202.5 L563.2,206.0 L559.7,209.5 L556.2,206.0Z"/>
<path class="rd" d="M589.0,163.4 L592.5,166.9 L589.0,170.4 L585.5,166.9Z"/>
<path class="rd" d="M581.8,173.6 L585.3,177.1 L581.8,180.6 L578.3,177.1Z"/>
<path class="rd" d="M582.3,179.7 L585.8,183.2 L582.3,186.7 L578.8,183.2Z"/>
<path class="rd" d="M583.1,183.3 L586.6,186.8 L583.1,190.3 L579.6,186.8Z"/>
<path class="rd" d="M590.3,184.4 L593.8,187.9 L590.3,191.4 L586.8,187.9Z"/>
<path class="rd" d="M599.8,179.7 L603.3,183.2 L599.8,186.7 L596.3,183.2Z"/>
<path class="rd" d="M581.2,188.4 L584.7,191.9 L581.2,195.4 L577.7,191.9Z"/>
<path class="rd" d="M587.1,191.3 L590.6,194.8 L587.1,198.3 L583.6,194.8Z"/>
<path class="rd" d="M589.7,193.9 L593.2,197.4 L589.7,200.9 L586.2,197.4Z"/>
<path class="rd" d="M578.4,118.4 L581.9,121.9 L578.4,125.4 L574.9,121.9Z"/>
<path class="rd" d="M572.9,126.3 L576.4,129.8 L572.9,133.3 L569.4,129.8Z"/>
<path class="rd" d="M590.6,103.8 L594.1,107.3 L590.6,110.8 L587.1,107.3Z"/>
<path class="rd" d="M596.3,105.2 L599.8,108.7 L596.3,112.2 L592.8,108.7Z"/>
<path class="rd" d="M597.7,102.0 L601.2,105.5 L597.7,109.0 L594.2,105.5Z"/>
<path class="rd" d="M602.1,99.6 L605.6,103.1 L602.1,106.6 L598.6,103.1Z"/>
<path class="rd" d="M601.9,94.4 L605.4,97.9 L601.9,101.4 L598.4,97.9Z"/>
<path class="rd" d="M606.0,93.6 L609.5,97.1 L606.0,100.6 L602.5,97.1Z"/>
<path class="rd" d="M593.6,116.1 L597.1,119.6 L593.6,123.1 L590.1,119.6Z"/>
<path class="rd" d="M610.6,121.9 L614.1,125.4 L610.6,128.9 L607.1,125.4Z"/>
<path class="rd" d="M605.9,131.6 L609.4,135.1 L605.9,138.6 L602.4,135.1Z"/>
<path class="rd" d="M608.7,130.0 L612.2,133.5 L608.7,137.0 L605.2,133.5Z"/>
<path class="rd" d="M611.4,127.9 L614.9,131.4 L611.4,134.9 L607.9,131.4Z"/>
<path class="rd" d="M599.2,141.1 L602.7,144.6 L599.2,148.1 L595.7,144.6Z"/>
<path class="rd" d="M605.6,144.3 L609.1,147.8 L605.6,151.3 L602.1,147.8Z"/>
<path class="rd" d="M586.8,150.3 L590.3,153.8 L586.8,157.3 L583.3,153.8Z"/>
<path class="rd" d="M590.6,150.8 L594.1,154.3 L590.6,157.8 L587.1,154.3Z"/>
<path class="rd" d="M596.6,152.8 L600.1,156.3 L596.6,159.8 L593.1,156.3Z"/>
<text class="ttl" x="189.5" y="311.9" text-anchor="middle" textLength="62" lengthAdjust="spacingAndGlyphs">min(p(X),p(Y))</text>
<text class="ttl" x="533.2" y="311.9" text-anchor="middle" textLength="64" lengthAdjust="spacingAndGlyphs">max(p(X),p(Y))</text>
<text class="ttl" transform="translate(8.5,149.6) rotate(-90)" text-anchor="middle" textLength="28.5" lengthAdjust="spacingAndGlyphs">p(X+Y)</text>
<text class="ttl" transform="translate(352.0,149.6) rotate(-90)" text-anchor="middle" textLength="28.5" lengthAdjust="spacingAndGlyphs">p(X+Y)</text>
<text class="pl" x="1.0" y="14.5" style="font-size:19.5px" textLength="10.1" lengthAdjust="spacingAndGlyphs">a</text>
<text class="pl" x="344.2" y="14.7">b</text>
</svg>
</body></html>
